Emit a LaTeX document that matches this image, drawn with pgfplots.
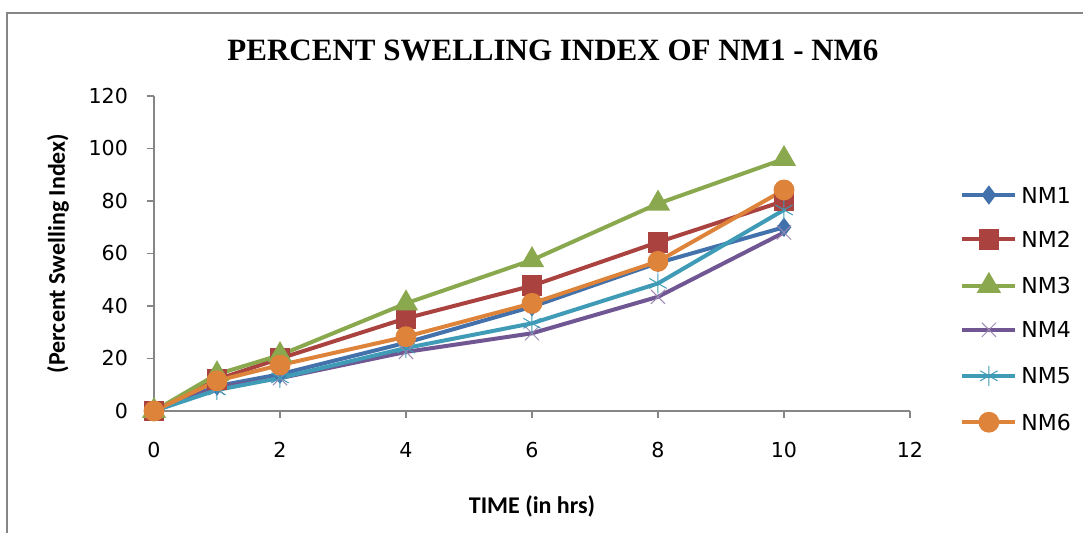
\documentclass[border=0pt]{standalone}
\usepackage{fontspec}
\usepackage{pgfplots}
\pgfplotsset{compat=1.18}
\setmainfont{DejaVu Sans}
\newfontfamily\titlefont{Liberation Serif}
\newfontfamily\labelfont{Carlito}

\definecolor{cNMa}{RGB}{66,113,172}
\definecolor{cNMb}{RGB}{170,66,64}
\definecolor{cNMc}{RGB}{138,168,78}
\definecolor{cNMd}{RGB}{112,86,146}
\definecolor{cNMe}{RGB}{63,155,182}
\definecolor{cNMf}{RGB}{222,131,58}
\definecolor{axisgray}{RGB}{134,134,134}

\begin{document}
\begin{tikzpicture}
% 1 px of the reference = 0.5pt, axis origin at px (154,411)
\path[use as bounding box] (-77pt,-61pt) rectangle (464.5pt,205.5pt);
\draw[axisgray, line width=1pt] (-73.5pt,-61pt) -- (-73.5pt,198.75pt) -- (464.5pt,198.75pt);

\begin{axis}[
  scale only axis,
  width=378pt, height=157.5pt,
  xmin=0, xmax=12, ymin=0, ymax=120,
  xtick={0,2,...,12}, ytick={0,20,...,120},
  axis x line*=bottom, axis y line*=left,
  axis line style={axisgray, line width=0.75pt},
  tick style={axisgray, line width=0.75pt},
  tick align=outside, major tick length=3.5pt,
  /pgf/number format/assume math mode=true,
  tick label style={font=\fontsize{10.3}{12}\selectfont},
  xticklabel style={anchor=center, yshift=-16pt},
  yticklabel style={anchor=east, xshift=-6pt},
  xlabel={TIME (in hrs)},
  ylabel={(Percent Swelling Index)},
  label style={font=\labelfont\bfseries\fontsize{12}{14}\selectfont},
  xlabel style={at={(axis description cs:0.5,-0.3016)}, anchor=center},
  ylabel style={at={(axis description cs:-0.127,0.5)}, anchor=center},
  clip=false,
  every axis plot/.append style={line width=2pt},
  legend style={draw=none, fill=none,
    at={(axis description cs:1.0582,0.725)}, anchor=north west,
    font=\fontsize{11}{13}\selectfont,
    nodes={inner sep=0pt, text height=8pt, text depth=0pt},
    row sep=14pt, column sep=2pt},
  legend cell align=left,
  legend image code/.code={\draw[mark repeat=2,mark phase=2] plot coordinates {(0pt,0pt) (13.25pt,0pt) (26.5pt,0pt)};},
]
\addplot[color=cNMa, mark=diamond*, mark size=3.2pt] coordinates {
  (0,0) (1,9.5) (2,14) (4,26) (6,39.7) (8,56.4) (10,70)};
\addlegendentry{NM1}
\addplot[color=cNMb, mark=square*, mark size=4.2pt] coordinates {
  (0,0) (1,12) (2,20) (4,35.3) (6,47.7) (8,64.3) (10,80)};
\addlegendentry{NM2}
\addplot[color=cNMc, mark=triangle*, mark size=5pt] coordinates {
  (0,0) (1,14) (2,21.3) (4,41) (6,57.5) (8,79) (10,96)};
\addlegendentry{NM3}
\addplot[color=cNMd, mark=x, mark size=5pt, mark options={line width=0.5pt, color=cNMd!70}] coordinates {
  (0,0) (1,9) (2,12.5) (4,22.5) (6,29.6) (8,43.5) (10,68)};
\addlegendentry{NM4}
\addplot[color=cNMe, mark=asterisk, mark size=5pt, mark options={line width=0.5pt}] coordinates {
  (0,0) (1,8) (2,12.6) (4,24) (6,33.4) (8,48.6) (10,76.6)};
\addlegendentry{NM5}
\addplot[color=cNMf, mark=*, mark size=4.2pt] coordinates {
  (0,0) (1,11.5) (2,17.5) (4,28.3) (6,41) (8,57) (10,84.2)};
\addlegendentry{NM6}
\end{axis}

\node[font=\titlefont\bfseries\fontsize{15.5}{18}\selectfont] at (199.5pt,180.5pt) {PERCENT SWELLING INDEX OF NM1 - NM6};
\end{tikzpicture}
\end{document}
